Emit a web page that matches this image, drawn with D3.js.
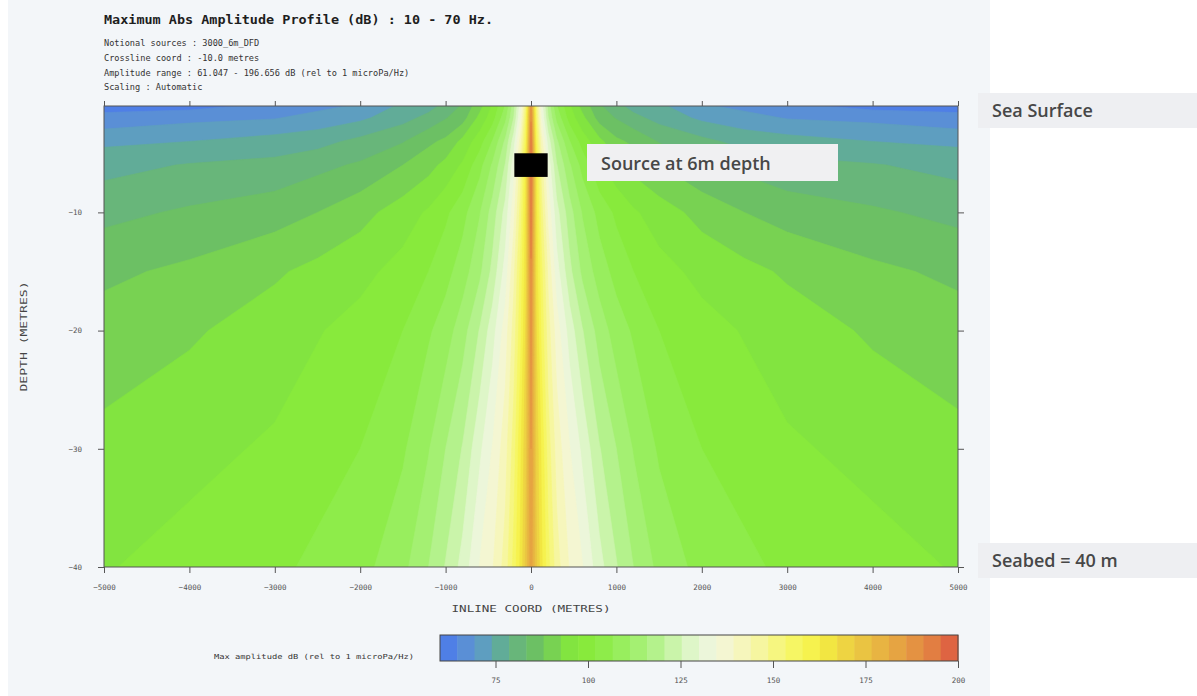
<!DOCTYPE html>
<html><head><meta charset="utf-8">
<script src="https://cdn.jsdelivr.net/npm/d3@7"></script>
<style>
body{margin:0;background:#ffffff;}
svg{display:block;}
.mono{font-family:"DejaVu Sans Mono","Liberation Mono",monospace;}
.note{font-family:"Open Sans","Noto Sans",sans-serif;font-weight:600;font-size:18px;fill:#474747;}
</style></head><body>
<svg id="chart" width="1197" height="696"></svg>
<script>
// ---------------- data ----------------
const titleText = "Maximum Abs Amplitude Profile (dB) : 10 - 70 Hz.";
const infoLines = [
  "Notional sources : 3000_6m_DFD",
  "Crossline coord : -10.0 metres",
  "Amplitude range : 61.047 - 196.656 dB (rel to 1 microPa/Hz)",
  "Scaling : Automatic"
];
// inline coordinate (m) of each grid column
const inlineX = [-5000,-4000,-3000,-2500,-2000,-1500,-1200,-1000,-800,-600,-450,-300,-200,-120,-60,0,
                 60,120,200,300,450,600,800,1000,1200,1500,2000,2500,3000,4000,5000];
// depth (m) of each grid row
const depthRows = [-1,-2,-4,-6,-10,-15,-20,-30,-40];
// max abs amplitude (dB), one row per depth
const ampRow1  = [63,63,66,68,70,75,77,80,84,91,98,107,119,133,151,188,151,133,119,107,98,91,84,80,77,75,70,68,66,63,63];
const ampRow2  = [66,68,69,71,73,77,80,83,86,94,100,110,121,135,154,190,154,135,121,110,100,94,86,83,80,77,73,71,69,68,66];
const ampRow4  = [73,74,76,77,80,83,87,89,94,100,107,117,128,142,158,194,158,142,128,117,107,100,94,89,87,83,80,77,76,74,73];
const ampRow6  = [77,79,80,82,84,88,91,94,98,105,112,121,133,147,163,196,163,147,133,121,112,105,98,94,91,88,84,82,80,79,77];
const ampRow10 = [82,84,86,88,91,95,98,101,105,111,118,127,138,151,165,193,165,151,138,127,118,111,105,101,98,95,91,88,86,84,82];
const ampRow15 = [87,89,92,94,96,99,102,105,109,115,122,132,143,155,166,190,166,155,143,132,122,115,109,105,102,99,96,94,92,89,87];
const ampRow20 = [90,92,95,97,99,102,106,109,114,121,128,137,146,157,168,188,168,157,146,137,128,121,114,109,106,102,99,97,95,92,90];
const ampRow30 = [94,96,98,100,102,106,111,116,121,129,135,142,151,162,171,186,171,162,151,142,135,129,121,116,111,106,102,100,98,96,94];
const ampRow40 = [97,99,101,103,105,110,116,121,127,135,139,146,155,164,173,184,173,164,155,146,139,135,127,121,116,110,105,103,101,99,97];
const amplitudeRows = [ampRow1, ampRow2, ampRow4, ampRow6, ampRow10, ampRow15, ampRow20, ampRow30, ampRow40];

const colorMin = 60, colorMax = 200;
const bandColors = ["#4f7fe6","#5a8fd6","#5e9ec0","#61ac98","#68b67a","#6cc064","#78d252","#82e440","#88ea3c","#8eec4a",
                    "#98ee5e","#a4f072","#b4f28c","#caf4aa","#def6c8","#ecf6da","#f4f6d2","#f6f6bc","#f6f6a0","#f6f680",
                    "#f6f664","#f6f24e","#f2e642","#eed442","#eac442","#e8b442","#e6a442","#e49242","#e27e42","#de6442"];
const xTicks = [-5000,-4000,-3000,-2000,-1000,0,1000,2000,3000,4000,5000];
const yTicks = [-10,-20,-30,-40];
const cbTicks = [75,100,125,150,175,200];
const source = {x0:-195, x1:195, top:-5, bottom:-7};
const notes = [
  {text:"Sea Surface", depth:-1},
  {text:"Seabed = 40 m", depth:-40}
];
const sourceNote = "Source at 6m depth";

// ---------------- layout ----------------
const svg = d3.select("#chart");
const P = {left:104, right:958, top:106, bottom:567};
const x = d3.scaleLinear().domain([-5000,5000]).range([P.left,P.right]);
const y = d3.scaleLinear().domain([-1,-40]).range([P.top,P.bottom]);
const cb = {left:440, right:958, top:635, bottom:661};
const cx = d3.scaleLinear().domain([colorMin,colorMax]).range([cb.left,cb.right]);

// background of the chart image
svg.append("rect").attr("x",8).attr("y",0).attr("width",982).attr("height",696).attr("fill","#f3f6f9");

// title block
svg.append("text").attr("class","mono").attr("x",104).attr("y",24)
  .attr("font-size",12.5).attr("font-weight","bold").attr("fill","#1e1e1e")
  .attr("textLength",389).attr("lengthAdjust","spacingAndGlyphs").text(titleText);
svg.selectAll("text.info").data(infoLines).join("text").attr("class","mono info")
  .attr("x",104).attr("y",(d,i)=>46+i*14.8).attr("font-size",8.6).attr("fill","#333").text(d=>d);

// ---------------- field (filled contours) ----------------
const n = inlineX.length, m = depthRows.length;
const flat = amplitudeRows.flat();
const step = (colorMax-colorMin)/bandColors.length;
const thresholds = d3.range(1,bandColors.length).map(i=>colorMin+i*step);
const colIdx = d3.scaleLinear().domain(d3.range(n)).range(inlineX).clamp(true);
const rowIdx = d3.scaleLinear().domain(d3.range(m)).range(depthRows).clamp(true);
const proj = d3.geoTransform({point(px,py){ this.stream.point(x(colIdx(px-0.5)), y(rowIdx(py-0.5))); }});
const path = d3.geoPath(proj);
const contours = d3.contours().size([n,m]).thresholds(thresholds)(flat);

svg.append("clipPath").attr("id","plotclip").append("rect")
  .attr("x",P.left).attr("y",P.top).attr("width",P.right-P.left).attr("height",P.bottom-P.top);
const field = svg.append("g").attr("clip-path","url(#plotclip)");
field.append("rect").attr("x",P.left).attr("y",P.top).attr("width",P.right-P.left).attr("height",P.bottom-P.top)
  .attr("fill",bandColors[0]);
field.selectAll("path").data(contours).join("path")
  .attr("d",path)
  .attr("fill",(d,i)=>bandColors[i+1])
  .attr("stroke",(d,i)=>bandColors[i+1]).attr("stroke-width",0.6);

// source marker
svg.append("rect").attr("x",x(source.x0)).attr("y",y(source.top))
  .attr("width",x(source.x1)-x(source.x0)).attr("height",y(source.bottom)-y(source.top)).attr("fill","#000");

// frame
svg.append("rect").attr("x",P.left).attr("y",P.top).attr("width",P.right-P.left).attr("height",P.bottom-P.top)
  .attr("fill","none").attr("stroke","#555").attr("stroke-width",1);

// axes
const axStyle = g=>{ g.select(".domain").remove(); g.selectAll("line").attr("stroke","#555");
  g.selectAll("text").attr("class","mono").attr("font-size",7.5).attr("fill","#555"); };
svg.append("g").attr("transform",`translate(0,${P.bottom})`)
  .call(d3.axisBottom(x).tickValues(xTicks).tickSize(6).tickPadding(12).tickFormat(d3.format("d"))).call(axStyle);
svg.append("g").attr("transform",`translate(0,${P.top})`)
  .call(d3.axisTop(x).tickValues(xTicks).tickSize(5).tickFormat("")).call(axStyle);
svg.append("g").attr("transform",`translate(${P.left},0)`)
  .call(d3.axisLeft(y).tickValues(yTicks).tickSize(6).tickPadding(16).tickFormat(d3.format("d"))).call(axStyle);
svg.append("g").attr("transform",`translate(${P.right},0)`)
  .call(d3.axisRight(y).tickValues(yTicks).tickSize(6).tickFormat("")).call(axStyle);

svg.append("text").attr("class","mono").attr("x",(P.left+P.right)/2).attr("y",612)
  .attr("text-anchor","middle").attr("font-size",9.5).attr("fill","#444")
  .attr("textLength",159).attr("lengthAdjust","spacingAndGlyphs").text("INLINE COORD (METRES)");
svg.append("text").attr("class","mono").attr("transform",`translate(27,${(P.top+P.bottom)/2}) rotate(-90)`)
  .attr("text-anchor","middle").attr("font-size",9.5).attr("fill","#444")
  .attr("textLength",110).attr("lengthAdjust","spacingAndGlyphs").text("DEPTH (METRES)");

// ---------------- colour bar ----------------
const bands = bandColors.map((c,i)=>({c, lo:colorMin+i*step, hi:colorMin+(i+1)*step}));
svg.append("g").selectAll("rect").data(bands).join("rect")
  .attr("x",d=>cx(d.lo)).attr("y",cb.top).attr("width",d=>cx(d.hi)-cx(d.lo)+0.5).attr("height",cb.bottom-cb.top)
  .attr("fill",d=>d.c);
svg.append("rect").attr("x",cb.left).attr("y",cb.top).attr("width",cb.right-cb.left).attr("height",cb.bottom-cb.top)
  .attr("fill","none").attr("stroke","#444").attr("stroke-width",1);
svg.append("g").attr("transform",`translate(0,${cb.bottom})`)
  .call(d3.axisBottom(cx).tickValues(cbTicks).tickSize(7).tickPadding(10).tickFormat(d3.format("d"))).call(axStyle);
svg.append("text").attr("class","mono").attr("x",214).attr("y",659).attr("font-size",7).attr("fill","#333")
  .attr("textLength",200).attr("lengthAdjust","spacingAndGlyphs").text("Max amplitude dB (rel to 1 microPa/Hz)");

// ---------------- annotations ----------------
const noteY = d3.scaleOrdinal().domain(notes.map(d=>d.text)).range([93,543]);
const ng = svg.selectAll("g.note").data(notes).join("g").attr("class","note-g");
ng.append("rect").attr("x",978).attr("y",d=>noteY(d.text)).attr("width",219).attr("height",35).attr("fill","#eeeff2");
ng.append("text").attr("class","note").attr("x",992).attr("y",d=>noteY(d.text)+24).text(d=>d.text);

svg.append("rect").attr("x",587).attr("y",144).attr("width",251).attr("height",37).attr("fill","#f0f0f2");
svg.append("text").attr("class","note").attr("x",601).attr("y",170).text(sourceNote);
</script>
</body></html>
